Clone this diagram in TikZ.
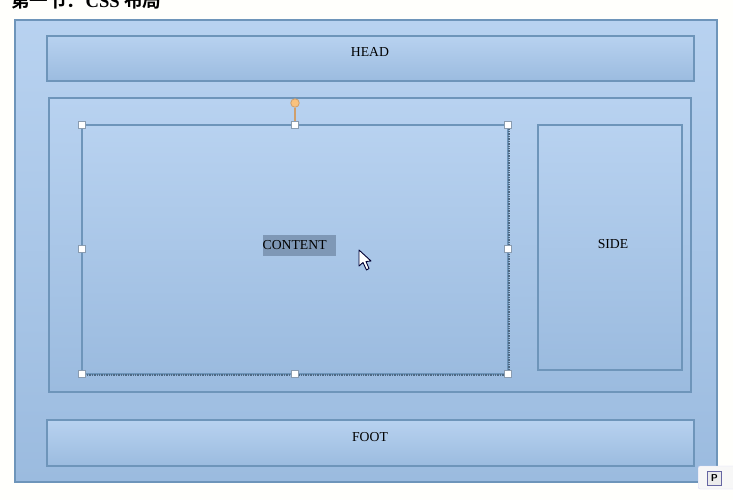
\documentclass[tikz,border=0pt]{standalone}
\usepackage{fontspec}
\setmainfont{Liberation Serif}
\newfontfamily\cjkfont{Noto Sans CJK SC}[BoldFont={Noto Sans CJK SC Bold}]
\definecolor{edgeblue}{HTML}{6E95BA}
\definecolor{fillhigh}{HTML}{B8D2F0}
\definecolor{filllow}{HTML}{9BBBDF}
\definecolor{handleedge}{HTML}{8A9CB0}
\definecolor{markblue}{HTML}{7F98B6}
\definecolor{turnline}{HTML}{CF9F6C}
\definecolor{turnfill}{HTML}{F9C27E}
\tikzset{panel/.style = {shape = rectangle,
                                    draw = edgeblue,
                                    line width = 2.2pt,
                                    inner sep=0pt,
                                    top color = fillhigh,
                                    bottom color = filllow},
         tag/.style = {inner sep=0pt,
                                    text = black,
                                    font=\fontsize{13.7}{15}\selectfont},
         handle/.style = {shape = rectangle,
                                    draw = handleedge,
                                    fill = white,
                                    line width = 0.8pt,
                                    inner sep=0pt,
                                    minimum size = 6.5pt}}

\begin{document}
\begin{tikzpicture}[x=1pt,y=-1pt]
	\useasboundingbox (0,0) rectangle (733,500);
	\clip (0,0) rectangle (733,500);
	\fill[white!99!yellow] (0,0) rectangle (733,500);
	\node[anchor=base west,inner sep=0pt,font=\fontsize{18.6}{20}\selectfont\bfseries] (title) at (11,8) {{\cjkfont 第一节：}CSS {\cjkfont 布局}};
	% panels
	\node[panel,minimum width=702pt,minimum height=462pt] (page) at (366,251) {};
	\node[panel,minimum width=647pt,minimum height=45pt] (head) at (370.5,58.5) {};
	\node[panel,minimum width=642pt,minimum height=294pt] (main) at (370,245) {};
	\node[panel,minimum width=426pt,minimum height=249pt] (content) at (295,249.5) {};
	\node[panel,minimum width=144pt,minimum height=245pt] (side) at (610,247.5) {};
	\node[panel,minimum width=647pt,minimum height=46pt] (foot) at (370.5,443) {};
	\draw[black!30!edgeblue,line width=1.4pt,densely dotted] (content.north east) -- (content.south east) -- (content.south west);
	% labels
	\node[tag] (headtext) at (370,52) {HEAD};
	\node[fill=markblue,minimum width=73pt,minimum height=21pt,inner sep=0pt] (mark) at (299.5,245.5) {};
	\node[tag,anchor=west] (contenttext) at (262.5,245) {CONTENT};
	\node[tag] (sidetext) at (613,244) {SIDE};
	\node[tag] (foottext) at (370,437) {FOOT};
	% selection handles
	\foreach \name/\px/\py in {nw/82/125,n/295/125,ne/508/125,w/82/249,e/508/249,sw/82/374,s/295/374,se/508/374}
		\node[handle] (\name) at (\px,\py) {};
	\node[shape=circle,draw=turnline,fill=turnfill,line width=0.8pt,inner sep=0pt,minimum size=8.5pt] (turn) at (295,103) {};
	\draw[turnline,line width=1.2pt] (turn) -- (n);
	% mouse pointer
	\draw[fill=white,draw=black!80!blue,line width=0.9pt,line join=round] (359,250) -- (359,266) -- (363,262.5) -- (366.5,270) -- (369,268.5) -- (366,261.5) -- (371,261) -- cycle;
	% smart tag
	\node[draw=black!20!blue!15,fill=black!3,rounded corners=2pt,minimum width=50pt,minimum height=23pt,inner sep=0pt,anchor=west] (smart) at (698,477.5) {};
	\node[draw=black!60!blue!60,fill=black!8,line width=1pt,minimum size=14pt,inner sep=0pt,font=\fontsize{10}{10}\selectfont\sffamily\bfseries] (smarticon) at (714.5,478) {P};
\end{tikzpicture}
\end{document}
